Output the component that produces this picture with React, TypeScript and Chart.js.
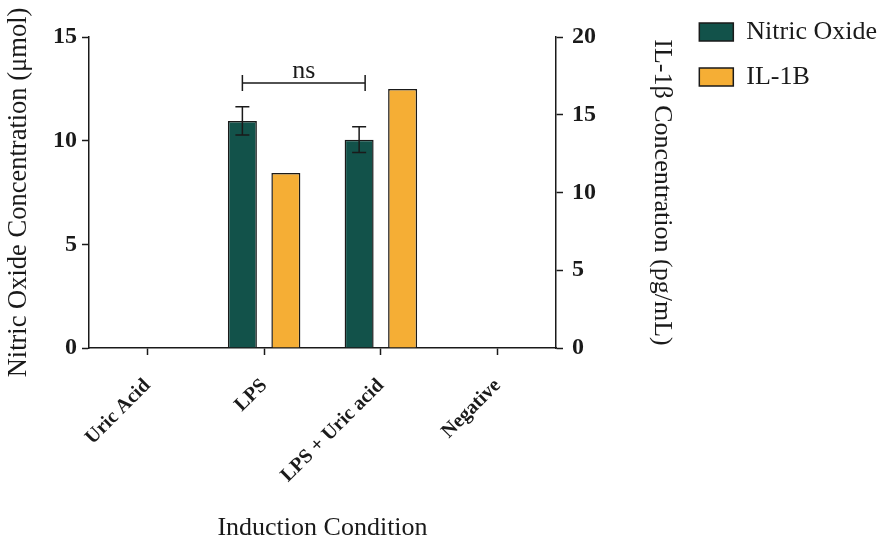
import React, { useEffect, useRef } from 'react';
import { Chart, registerables } from 'chart.js';

Chart.register(...registerables);

const categories = ['Uric Acid', 'LPS', 'LPS + Uric acid', 'Negative'];
const nitricOxide = [0, 10.95, 10.05, 0];
const nitricOxideErr = [0, 0.68, 0.62, 0];
const il1b = [0, 11.25, 16.65, 0];
const leftTicks = [0, 5, 10, 15];
const rightTicks = [0, 5, 10, 15, 20];
const nsPair = [1, 2];
const nsLevel = 12.78;
const nsLabel = 'ns';

const FONT = "'Liberation Serif', 'Times New Roman', serif";
const GREEN = '#12524A';
const ORANGE = '#F5AE35';
const INK = '#1a1a1a';

const annotationPlugin = {
  id: 'annotations',
  afterDatasetsDraw(chart: any) {
    const ctx = chart.ctx;
    const y = chart.scales.y;
    const meta = chart.getDatasetMeta(0);
    ctx.save();
    ctx.strokeStyle = INK;
    ctx.lineWidth = 1.5;
    nitricOxideErr.forEach((e, i) => {
      if (!e) return;
      const x = meta.data[i].x;
      const top = y.getPixelForValue(nitricOxide[i] + e);
      const bot = y.getPixelForValue(nitricOxide[i] - e);
      ctx.beginPath();
      ctx.moveTo(x, top);
      ctx.lineTo(x, bot);
      ctx.moveTo(x - 7, top);
      ctx.lineTo(x + 7, top);
      ctx.moveTo(x - 7, bot);
      ctx.lineTo(x + 7, bot);
      ctx.stroke();
    });
    const x1 = meta.data[nsPair[0]].x;
    const x2 = meta.data[nsPair[1]].x + 6;
    const by = y.getPixelForValue(nsLevel);
    ctx.beginPath();
    ctx.moveTo(x1, by - 8);
    ctx.lineTo(x1, by + 8);
    ctx.moveTo(x1, by);
    ctx.lineTo(x2, by);
    ctx.moveTo(x2, by - 8);
    ctx.lineTo(x2, by + 8);
    ctx.stroke();
    ctx.fillStyle = INK;
    ctx.font = `26px ${FONT}`;
    ctx.textAlign = 'center';
    ctx.textBaseline = 'alphabetic';
    ctx.fillText(nsLabel, (x1 + x2) / 2, by - 5);
    ctx.restore();
  },
};

export default function App() {
  const ref = useRef<HTMLCanvasElement>(null);

  useEffect(() => {
    const tickGrid = {
      display: true,
      drawOnChartArea: false,
      drawTicks: true,
      tickLength: 7,
      tickWidth: 1.5,
      tickColor: INK,
      color: INK,
    };
    const border = { display: true, color: INK, width: 1.5 };
    const chart = new Chart(ref.current as HTMLCanvasElement, {
      type: 'bar',
      data: {
        labels: categories,
        datasets: [
          {
            label: 'Nitric Oxide',
            data: nitricOxide,
            yAxisID: 'y',
            backgroundColor: GREEN,
            borderColor: INK,
            borderWidth: 1.5,
            categoryPercentage: 0.745,
            barPercentage: 0.667,
          },
          {
            label: 'IL-1B',
            data: il1b,
            yAxisID: 'y1',
            backgroundColor: ORANGE,
            borderColor: INK,
            borderWidth: 1.5,
            categoryPercentage: 0.745,
            barPercentage: 0.667,
          },
        ],
      },
      options: {
        animation: false,
        responsive: false,
        layout: { padding: { top: 0, right: 5, bottom: 0, left: 0 } },
        plugins: {
          tooltip: { enabled: false },
          title: {
            display: true,
            text: ' ',
            padding: 0,
            font: { size: 10, lineHeight: '37px' as any },
          },
          legend: {
            position: 'right',
            align: 'start',
            maxWidth: 240,
            labels: {
              boxWidth: 34,
              boxHeight: 18,
              padding: 19,
              color: INK,
              font: { family: FONT, size: 26 },
            },
          },
        },
        scales: {
          x: {
            offset: true,
            grid: { ...tickGrid, offset: false },
            border,
            ticks: {
              color: INK,
              maxRotation: 45,
              minRotation: 45,
              padding: 19,
              font: { family: FONT, size: 20, weight: 'bold' },
            },
            title: {
              display: true,
              text: 'Induction Condition',
              color: INK,
              padding: { top: 0, bottom: -2 },
              font: { family: FONT, size: 26 },
            },
            afterFit: (s: any) => {
              s.height = 194;
            },
          },
          y: {
            position: 'left',
            min: 0,
            max: 15,
            afterBuildTicks: (s: any) => {
              s.ticks = leftTicks.map((v) => ({ value: v }));
            },
            grid: tickGrid,
            border,
            ticks: {
              color: INK,
              padding: 5,
              font: { family: FONT, size: 24, weight: 'bold' },
            },
            title: {
              display: true,
              text: 'Nitric Oxide Concentration (μmol)',
              color: INK,
              padding: { top: 3, bottom: 0 },
              font: { family: FONT, size: 26.5 },
            },
            afterFit: (s: any) => {
              s.width = 89;
            },
          },
          y1: {
            position: 'right',
            min: 0,
            max: 20,
            afterBuildTicks: (s: any) => {
              s.ticks = rightTicks.map((v) => ({ value: v }));
            },
            grid: tickGrid,
            border,
            ticks: {
              color: INK,
              padding: 9,
              font: { family: FONT, size: 24, weight: 'bold' },
            },
            title: {
              display: true,
              text: 'IL-1β Concentration (pg/mL)',
              color: INK,
              padding: { top: 3, bottom: 0 },
              font: { family: FONT, size: 26 },
            },
            afterFit: (s: any) => {
              const lw = s.chart.legend && s.chart.legend.width ? s.chart.legend.width : 207;
              s.width = s.chart.width - 556 - 5 - lw;
            },
          },
        },
      },
      plugins: [annotationPlugin],
    } as any);
    return () => chart.destroy();
  }, []);

  return (
    <div style={{ position: 'fixed', left: 0, top: 0, width: 892, height: 542, background: '#fff' }}>
      <canvas ref={ref} width={892} height={542} style={{ display: 'block' }} />
    </div>
  );
}
